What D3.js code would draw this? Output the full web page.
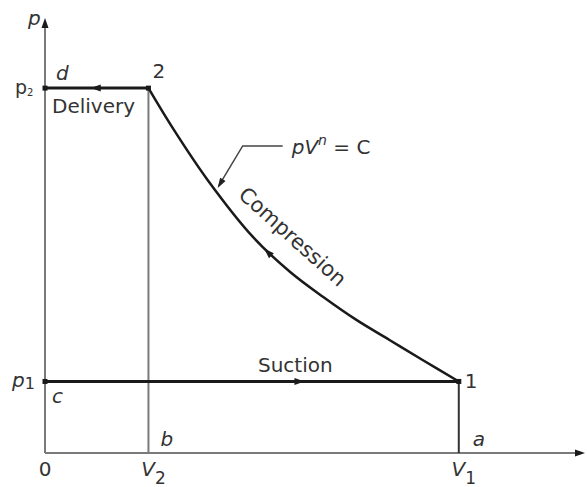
<!DOCTYPE html>
<html>
<head>
<meta charset="utf-8">
<script src="https://cdn.jsdelivr.net/npm/d3@7"></script>
<style>
  html, body { margin: 0; padding: 0; background: #fff; }
  svg { display: block; }
  text { font-family: "DejaVu Sans", "Liberation Sans", Arial, sans-serif; fill: #333; }
</style>
</head>
<body>
<svg id="chart" width="587" height="487"></svg>
<script>
// ---- data ----
const volumeMax = 5.22;       // extent of V axis
const pressureMax = 6.08;     // extent of p axis
const V2 = 1.0, V1 = 4.0;     // clearance and total volume
const p1 = 1.0, p2 = 5.1;     // suction and delivery pressures
// compression curve 1 -> 2 (pV^n = C), sampled points
const compV = [1.00, 1.24, 1.57, 2.01, 2.37, 2.69, 3.01, 3.33, 3.65, 4.00];
const compP = [5.10, 4.53, 3.82, 3.02, 2.53, 2.18, 1.86, 1.58, 1.30, 1.00];
const xTickLabels = [{v: 0, t: "0"}, {v: V2, t: "V", s: "2"}, {v: V1, t: "V", s: "1"}];

const svg = d3.select("#chart");
const x = d3.scaleLinear().domain([0, volumeMax]).range([45, 585]);
const y = d3.scaleLinear().domain([0, pressureMax]).range([453, 18]);

const gray = "#7a7a7a", black = "#1a1a1a";
const FS = 20;

function tri(cx, cy, angleDeg, len, half, color) {
  const a = angleDeg * Math.PI / 180;
  const bx = cx - len * Math.cos(a), by = cy - len * Math.sin(a);
  const nx = -Math.sin(a) * half, ny = Math.cos(a) * half;
  svg.append("path")
    .attr("d", `M${cx},${cy}L${bx + nx},${by + ny}L${bx - nx},${by - ny}Z`)
    .attr("fill", color);
}

// axes
svg.append("line").attr("x1", x(0)).attr("y1", y(0)).attr("x2", x(volumeMax) - 4).attr("y2", y(0))
  .attr("stroke", gray).attr("stroke-width", 2);
svg.append("line").attr("x1", x(0)).attr("y1", y(0)).attr("x2", x(0)).attr("y2", y(pressureMax) + 4)
  .attr("stroke", gray).attr("stroke-width", 2);
tri(x(volumeMax), y(0), 0, 10, 3.5, black);
tri(x(0), y(pressureMax), -90, 10, 3.5, black);

// vertical lines at V2 and V1
svg.append("line").attr("x1", x(V2)).attr("y1", y(p2)).attr("x2", x(V2)).attr("y2", y(0))
  .attr("stroke", gray).attr("stroke-width", 2);
svg.append("line").attr("x1", x(V1)).attr("y1", y(p1)).attr("x2", x(V1)).attr("y2", y(0))
  .attr("stroke", "#333").attr("stroke-width", 2);

// delivery and suction lines
svg.append("line").attr("x1", x(0)).attr("y1", y(p2)).attr("x2", x(V2)).attr("y2", y(p2))
  .attr("stroke", black).attr("stroke-width", 3);
svg.append("line").attr("x1", x(0)).attr("y1", y(p1)).attr("x2", x(V1)).attr("y2", y(p1))
  .attr("stroke", black).attr("stroke-width", 3);

// compression curve
const pts = compV.map((v, i) => [x(v), y(compP[i])]);
const curve = svg.append("path")
  .attr("d", d3.line().curve(d3.curveCatmullRom.alpha(0.5))(pts))
  .attr("fill", "none").attr("stroke", black).attr("stroke-width", 2.5);

// corner dots
[[0, p2], [V2, p2], [0, p1], [V1, p1]].forEach(([v, p]) => {
  svg.append("rect").attr("x", x(v) - 2.5).attr("y", y(p) - 2.5).attr("width", 5).attr("height", 5).attr("fill", black);
});

// direction arrows
tri(x(0.5) - 6, y(p2), 180, 10, 3.5, black);
tri(x(2.45) + 6, y(p1), 0, 10, 3.5, black);
const node = curve.node();
const L = node.getTotalLength();
function pointAtX(px) {
  let lo = 0, hi = L;
  for (let k = 0; k < 40; k++) {
    const mid = (lo + hi) / 2;
    if (node.getPointAtLength(mid).x < px) lo = mid; else hi = mid;
  }
  return lo;
}
{
  const s = pointAtX(x(2.12));
  const pA = node.getPointAtLength(s), pB = node.getPointAtLength(s - 3);
  const ang = Math.atan2(pB.y - pA.y, pB.x - pA.x) * 180 / Math.PI;
  tri(pA.x, pA.y, ang, 10, 3.5, black);
}

// leader for pV^n = C
{
  const s = pointAtX(x(1.65));
  const pA = node.getPointAtLength(s);
  const ex = pA.x + 27, ey = pA.y - 45;
  svg.append("path").attr("d", `M${pA.x + 3},${pA.y - 5}L${ex},${ey}L${ex + 40},${ey}`)
    .attr("fill", "none").attr("stroke", "#444").attr("stroke-width", 1.5);
  const a = Math.atan2(pA.y - ey, pA.x - ex) * 180 / Math.PI;
  tri(pA.x + 2, pA.y - 3, a, 10, 3.2, "#222");
  const t = svg.append("text").attr("x", ex + 49).attr("y", ey + 8).attr("font-size", FS);
  t.append("tspan").attr("font-style", "italic").text("pV");
  t.append("tspan").attr("font-style", "italic").attr("dy", -9).attr("font-size", 14).text("n");
  t.append("tspan").attr("dy", 9).attr("font-size", FS).text(" = C");
}

// compression label
{
  const s = pointAtX(x(2.28));
  const pA = node.getPointAtLength(s);
  svg.append("text").attr("transform", `translate(${pA.x + 7},${pA.y - 22}) rotate(42)`)
    .attr("text-anchor", "middle").attr("font-size", 21).text("Compression");
}

// process labels
svg.append("text").attr("x", x(0) + 7).attr("y", y(p2) + 25).attr("font-size", FS).text("Delivery");
svg.append("text").attr("x", x(2.42)).attr("y", y(p1) - 9).attr("text-anchor", "middle").attr("font-size", FS).text("Suction");

// state labels
svg.append("text").attr("x", x(V2) + 4).attr("y", y(p2) - 10).attr("font-size", FS).text("2");
svg.append("text").attr("x", x(V1) + 6).attr("y", y(p1) + 7).attr("font-size", FS).text("1");
svg.append("text").attr("x", x(0) + 11).attr("y", y(p2) - 8).attr("font-size", FS).attr("font-style", "italic").text("d");
svg.append("text").attr("x", x(0) + 7).attr("y", y(p1) + 22).attr("font-size", FS).attr("font-style", "italic").text("c");
svg.append("text").attr("x", x(V2) + 12).attr("y", y(0) - 7).attr("font-size", FS).attr("font-style", "italic").text("b");
svg.append("text").attr("x", x(V1) + 14).attr("y", y(0) - 7).attr("font-size", FS).attr("font-style", "italic").text("a");

// axis labels
svg.append("text").attr("x", x(0) - 17).attr("y", y(pressureMax) + 7).attr("font-size", FS).attr("font-style", "italic").text("p");
{
  const t = svg.append("text").attr("x", x(0) - 30).attr("y", y(p2) + 6).attr("font-size", 19);
  t.append("tspan").text("p");
  t.append("tspan").attr("font-size", 10).attr("dy", 2).text("2");
}
{
  const t = svg.append("text").attr("x", x(0) - 33).attr("y", y(p1) + 6).attr("font-size", FS);
  t.append("tspan").attr("font-style", "italic").text("p");
  t.append("tspan").attr("font-size", 16).attr("dy", 2).text("1");
}
xTickLabels.forEach(d => {
  const t = svg.append("text").attr("x", x(d.v)).attr("y", y(0) + 23).attr("font-size", FS).attr("text-anchor", "middle");
  if (d.s) {
    t.attr("x", x(d.v) + 5);
    t.append("tspan").attr("font-style", "italic").text(d.t);
    t.append("tspan").attr("font-size", 17).attr("dy", 8).text(d.s);
  } else {
    t.text(d.t);
  }
});
</script>
</body>
</html>
